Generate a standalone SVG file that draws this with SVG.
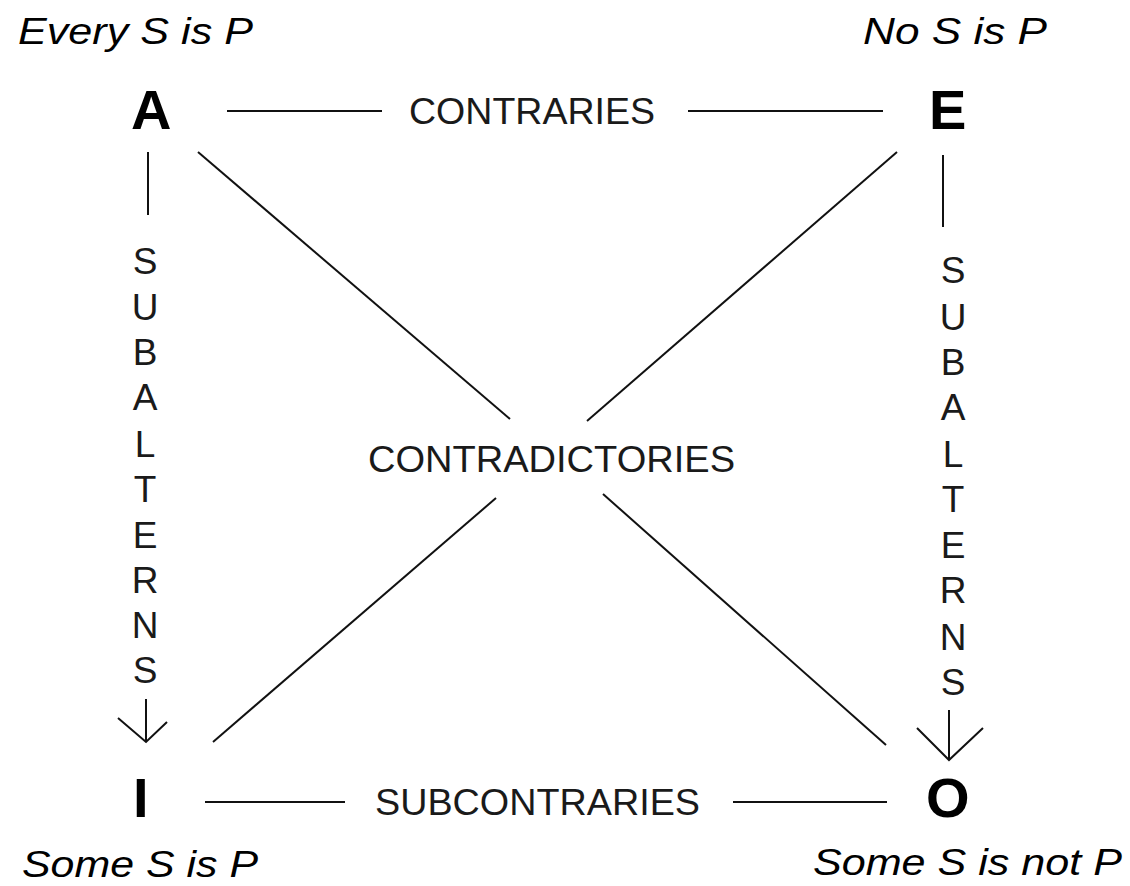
<svg xmlns="http://www.w3.org/2000/svg" width="1130" height="886" viewBox="0 0 1130 886">
<style>
.corner{font-family:"Liberation Sans",Arial,sans-serif;font-weight:bold;font-size:56px;fill:#000}
.prop{font-family:"Liberation Sans",Arial,sans-serif;font-style:italic;font-size:37px;fill:#000}
.lbl{font-family:"Liberation Sans",Arial,sans-serif;font-size:37px;fill:#1a1a1a}
.v{font-family:"Liberation Sans",Arial,sans-serif;font-size:37px;fill:#1a1a1a;text-anchor:middle}
.ln{stroke:#111;stroke-width:2;fill:none}
</style>
<rect width="1130" height="886" fill="#fff"/>
<g id="node-A">
<text class="prop" x="18" y="44" textLength="235" lengthAdjust="spacingAndGlyphs">Every S is P</text>
<text class="corner" x="131" y="129">A</text>
</g>
<g id="node-E">
<text class="prop" x="863" y="44" textLength="184" lengthAdjust="spacingAndGlyphs">No S is P</text>
<text class="corner" x="929" y="129">E</text>
</g>
<g id="node-I">
<text class="corner" x="133" y="817">I</text>
<text class="prop" x="22" y="877" textLength="236" lengthAdjust="spacingAndGlyphs">Some S is P</text>
</g>
<g id="node-O">
<text class="corner" x="926" y="817">O</text>
<text class="prop" x="813" y="875" textLength="309" lengthAdjust="spacingAndGlyphs">Some S is not P</text>
</g>
<g id="connectors">
<line class="ln" x1="227" y1="111" x2="382" y2="111"/>
<text class="lbl" x="409" y="124" textLength="246" lengthAdjust="spacingAndGlyphs">CONTRARIES</text>
<line class="ln" x1="688" y1="111" x2="883" y2="111"/>
<line class="ln" x1="205" y1="802" x2="345" y2="802"/>
<text class="lbl" x="375" y="815" textLength="325" lengthAdjust="spacingAndGlyphs">SUBCONTRARIES</text>
<line class="ln" x1="733" y1="802" x2="887" y2="802"/>
<line class="ln" x1="198" y1="152" x2="510" y2="419"/>
<line class="ln" x1="603" y1="494" x2="886" y2="745"/>
<line class="ln" x1="897" y1="152" x2="587" y2="421"/>
<line class="ln" x1="496" y1="498" x2="213" y2="742"/>
<text class="lbl" x="368" y="472" textLength="367" lengthAdjust="spacingAndGlyphs">CONTRADICTORIES</text>
<line class="ln" x1="148" y1="152" x2="148" y2="215"/>
<text class="v"><tspan x="145" y="274">S</tspan><tspan x="145" y="320">U</tspan><tspan x="145" y="365">B</tspan><tspan x="145" y="410">A</tspan><tspan x="145" y="457">L</tspan><tspan x="145" y="502">T</tspan><tspan x="145" y="548">E</tspan><tspan x="145" y="593">R</tspan><tspan x="145" y="638">N</tspan><tspan x="145" y="683">S</tspan></text>
<line class="ln" x1="146" y1="699" x2="146" y2="742"/>
<polyline class="ln" points="118,718 146,742 167,722"/>
<line class="ln" x1="943" y1="155" x2="943" y2="227"/>
<text class="v"><tspan x="953" y="283">S</tspan><tspan x="953" y="330">U</tspan><tspan x="953" y="375">B</tspan><tspan x="953" y="420">A</tspan><tspan x="953" y="467">L</tspan><tspan x="953" y="512">T</tspan><tspan x="953" y="558">E</tspan><tspan x="953" y="603">R</tspan><tspan x="953" y="650">N</tspan><tspan x="953" y="695">S</tspan></text>
<line class="ln" x1="949" y1="710" x2="949" y2="760"/>
<polyline class="ln" points="917,728 949,760 983,728"/>
</g>
</svg>
